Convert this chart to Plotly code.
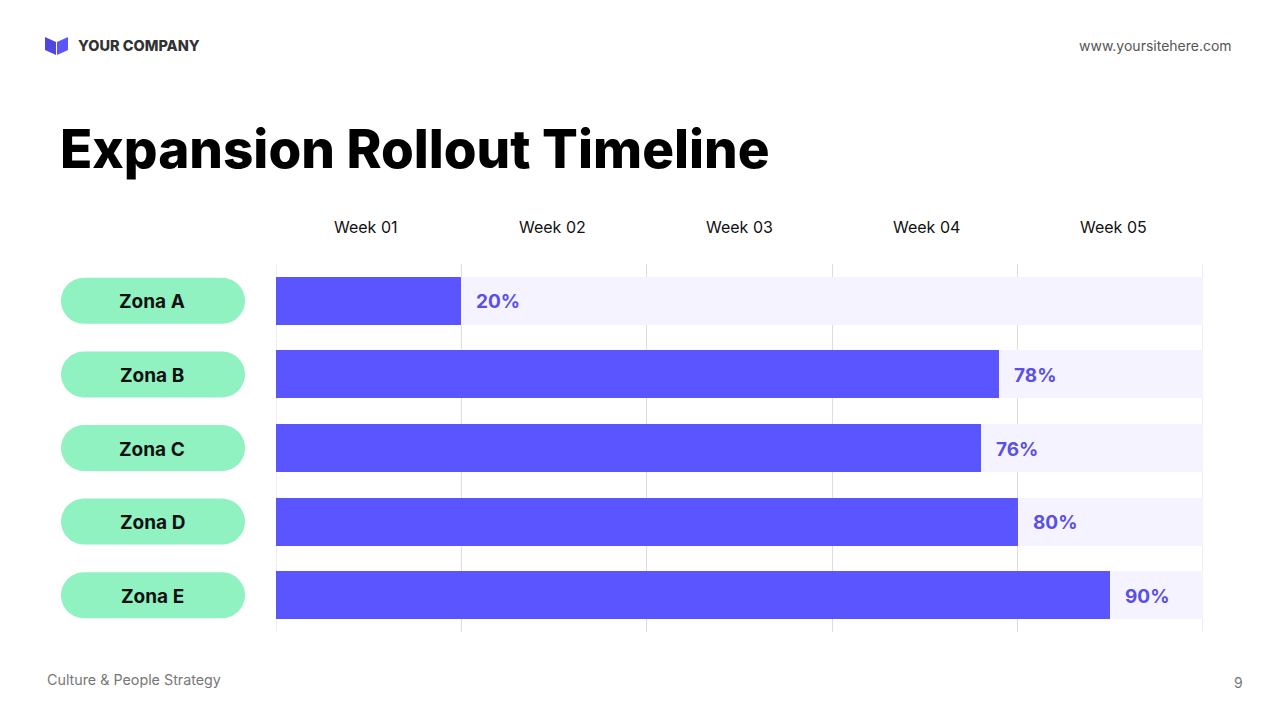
import plotly.graph_objects as go
import math

zones = ["Zona A", "Zona B", "Zona C", "Zona D", "Zona E"]
progress = [20, 78, 76, 80, 90]
weeks = ["Week 01", "Week 02", "Week 03", "Week 04", "Week 05"]
week_centers = [9.7, 29.8, 50, 70.2, 90.3]
grid_ticks = [0, 20, 40, 60, 80, 100]
full = [100, 100, 100, 100, 100]

W, H = 1280, 720
L, R, T, B = 276, 1203, 264, 632
PW, PH = R - L, B - T

PURPLE = "#5B55FF"
PCT = "#5A4FE6"
LAV = "#F5F3FF"
GREEN = "#90F2C1"
GRID = "#DDDDDD"
FONT = "Inter"

def px_x(px):
    return (px - L) / PW

def px_y(py):
    return (B - py) / PH

fig = go.Figure()
fig.add_trace(go.Bar(y=zones, x=full, orientation="h", marker=dict(color=LAV, line=dict(width=0)),
                     width=0.65, hoverinfo="skip", showlegend=False))
fig.add_trace(go.Bar(y=zones, x=progress, orientation="h", marker=dict(color=PURPLE, line=dict(width=0)),
                     width=0.65, showlegend=False))

shapes = []
annotations = []

# edge gridlines (plotly omits gridlines at range ends)
for gx in (grid_ticks[0], grid_ticks[-1]):
    shapes.append(dict(type="line", xref="x", yref="paper", x0=gx, x1=gx, y0=0, y1=1,
                       line=dict(color=GRID, width=1), layer="below"))

# pills for zone labels
row_px = PH / len(zones)
pill_h_units = 46 / row_px
r_y = pill_h_units / 2
r_x = 23 / PW
x_left = px_x(61)
x_right = px_x(245)
for i, z in enumerate(zones):
    pts = []
    n = 20
    for k in range(n + 1):
        a = -math.pi / 2 + math.pi * k / n
        pts.append((x_right - r_x + r_x * math.cos(a), i + r_y * math.sin(a)))
    for k in range(n + 1):
        a = math.pi / 2 + math.pi * k / n
        pts.append((x_left + r_x + r_x * math.cos(a), i + r_y * math.sin(a)))
    path = "M " + " L ".join(f"{x:.5f},{y:.5f}" for x, y in pts) + " Z"
    shapes.append(dict(type="path", xref="paper", yref="y", path=path,
                       fillcolor=GREEN, line=dict(width=0), layer="below"))
    annotations.append(dict(x=(x_left + x_right) / 2, y=i, xref="paper", yref="y", text=z,
                            showarrow=False, xanchor="center", yanchor="middle", xshift=-1, yshift=-1,
                            font=dict(family=FONT, size=19, color="#111111", weight=700)))

# percent labels
for z, v in zip(zones, progress):
    annotations.append(dict(x=v, y=z, xref="x", yref="y", text=f"{v}%", showarrow=False,
                            xanchor="left", yanchor="middle", xshift=13, yshift=-1,
                            font=dict(family=FONT, size=19, color=PCT, weight=700)))

# week labels
for w, c in zip(weeks, week_centers):
    annotations.append(dict(x=c, y=px_y(227), xref="x", yref="paper", text=w, showarrow=False,
                            xanchor="center", yanchor="middle",
                            font=dict(family=FONT, size=16, color="#111111")))

# logo
left_page = [(45, 37), (56, 42), (56, 55), (45, 50)]
right_page = [(57, 42), (68, 37), (68, 50), (57, 55)]
for poly, col in [(left_page, "#4F46E5"), (right_page, PURPLE)]:
    path = "M " + " L ".join(f"{px_x(x):.5f},{px_y(y):.5f}" for x, y in poly) + " Z"
    shapes.append(dict(type="path", xref="paper", yref="paper", path=path,
                       fillcolor=col, line=dict(width=0)))

annotations += [
    dict(x=px_x(76), y=px_y(46), xref="paper", yref="paper", text="YOUR COMPANY", showarrow=False,
         xanchor="left", yanchor="middle", font=dict(family=FONT, size=14.5, color="#333333", weight=800)),
    dict(x=px_x(1234), y=px_y(46), xref="paper", yref="paper", text="www.yoursitehere.com", showarrow=False,
         xanchor="right", yanchor="middle", font=dict(family=FONT, size=14, color="#555555")),
    dict(x=px_x(58), y=px_y(149), xref="paper", yref="paper", text="Expansion Rollout Timeline", showarrow=False,
         xanchor="left", yanchor="middle", font=dict(family=FONT, size=53, color="#000000", weight=800)),
    dict(x=px_x(45), y=px_y(680), xref="paper", yref="paper", text="Culture &amp; People Strategy", showarrow=False,
         xanchor="left", yanchor="middle", font=dict(family=FONT, size=14.3, color="#777777")),
    dict(x=px_x(1245), y=px_y(682), xref="paper", yref="paper", text="9", showarrow=False,
         xanchor="right", yanchor="middle", font=dict(family=FONT, size=14, color="#777777")),
]

fig.update_layout(
    width=W, height=H,
    margin=dict(l=L, r=W - R, t=T, b=H - B, pad=0),
    paper_bgcolor="white", plot_bgcolor="white",
    barmode="overlay", bargap=0,
    shapes=shapes, annotations=annotations,
    xaxis=dict(range=[0, 100], tickvals=grid_ticks, showticklabels=False, showgrid=True,
               gridcolor=GRID, gridwidth=1, zeroline=False, showline=False, fixedrange=True),
    yaxis=dict(type="category", categoryorder="array", categoryarray=zones, range=[4.5, -0.5],
               showticklabels=False, showgrid=False, zeroline=False, showline=False, fixedrange=True),
    font=dict(family=FONT),
)

fig.write_html("out.html", config={"displayModeBar": False},
               post_script="document.body.style.margin='0';document.body.style.padding='0';")
